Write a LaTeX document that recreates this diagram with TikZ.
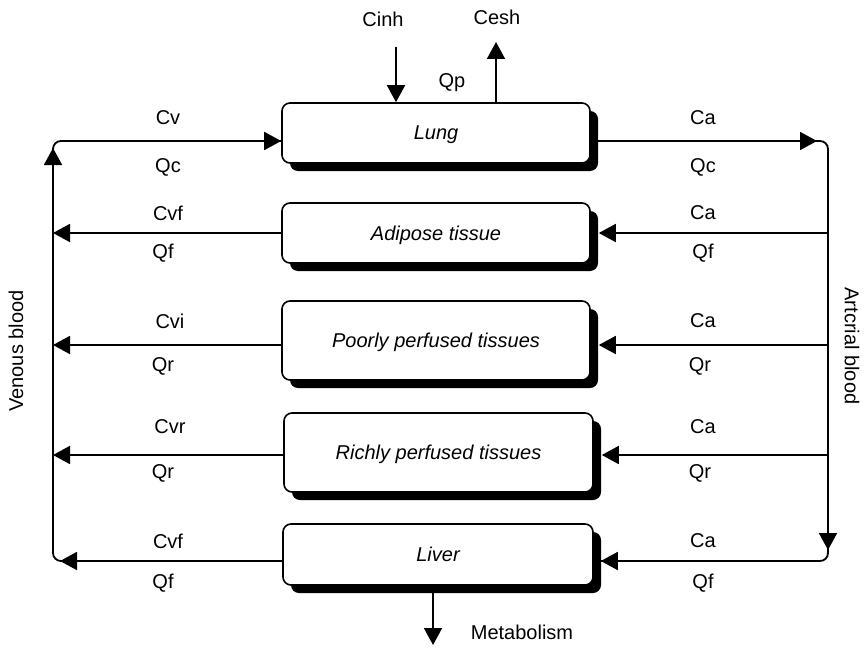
\documentclass[tikz,border=0pt]{standalone}
\usepackage{fontspec}
\setmainfont{Liberation Sans}
\usetikzlibrary{arrows.meta,shadows,calc}
\begin{document}
\begin{tikzpicture}[x=1pt,y=-1pt,
  every node/.style={font=\fontsize{20}{24}\selectfont, inner sep=0pt},
  organ/.style={draw, line width=1.6pt, rounded corners=8pt, fill=white,
    font=\fontsize{20}{24}\selectfont\itshape, text height=14pt, text depth=0pt,
    drop shadow={shadow xshift=8pt, shadow yshift=-8pt, opacity=1, fill=black}},
  flow/.style={line width=1.8pt},
  arr/.style={flow, -{Triangle[length=17pt,width=18pt]}}]
\useasboundingbox (0,0) rectangle (866,647);

% compartments
\node[organ, minimum width=308pt, minimum height=60pt] (lung)    at (436,133)   {Lung};
\node[organ, minimum width=308pt, minimum height=60pt] (adipose) at (436,233)   {Adipose tissue};
\node[organ, minimum width=308pt, minimum height=79pt] (poorly)  at (436,340.5) {Poorly perfused tissues};
\node[organ, minimum width=309pt, minimum height=79pt] (richly)  at (438.5,452.5) {Richly perfused tissues};
\node[organ, minimum width=310pt, minimum height=61pt] (liver)   at (438,554.5) {Liver};

% corners of the blood loops
\coordinate (vtop) at (53,141);
\coordinate (vbot) at (53,561);
\coordinate (atop) at (828,141);
\coordinate (abot) at (828,561);
% rows of the tissue flows
\coordinate (rowA) at (0,233);
\coordinate (rowP) at (0,345);
\coordinate (rowR) at (0,455);

% venous return loop
\draw[flow, rounded corners=8pt] (liver.west |- vbot) -- (vbot) -- (vtop) -- (lung.west |- vtop);
\draw[arr] (120,561) -- (60,561);
\draw[arr] (53,185) -- (53,148);
\draw[arr] (240,141) -- (lung.west |- vtop);

% arterial supply loop
\draw[flow, rounded corners=8pt] (lung.east |- atop) -- (atop) -- (abot) -- ($(liver.east |- abot)+(7,0)$);
\draw[arr] (760,141) -- (817,141);
\draw[arr] (828,500) -- (828,550);
\draw[arr] (660,561) -- ($(liver.east |- abot)+(7,0)$);

% tissue outflows to venous blood
\draw[arr] (adipose.west |- rowA) -- (vtop |- rowA);
\draw[arr] (poorly.west |- rowP) -- (vtop |- rowP);
\draw[arr] (richly.west |- rowR) -- (vtop |- rowR);

% arterial inflows to tissues
\draw[arr] (atop |- rowA) -- ($(adipose.east |- rowA)+(8,0)$);
\draw[arr] (atop |- rowP) -- ($(poorly.east |- rowP)+(8,0)$);
\draw[arr] (atop |- rowR) -- ($(richly.east |- rowR)+(8,0)$);

% inhalation / exhalation
\coordinate (inhtop) at (396,47);
\coordinate (eshtop) at (496,42);
\draw[arr] (inhtop) -- (lung.north -| inhtop);
\draw[arr] (lung.north -| eshtop) -- (eshtop);
\node (cinh) at (383,19) {Cinh};
\node (cesh) at (497,17) {Cesh};
\node (qp)   at (452,83) {Qp};

% metabolism
\coordinate (met) at (433,645);
\draw[arr] (liver.south -| met) -- (met);
\node (metab) at (522,632) {Metabolism};

% flow labels, venous side
\node (l1a) at (168,118) {Cv};  \node (l1b) at (168,167) {Qc};
\node (l2a) at (168,213) {Cvf}; \node (l2b) at (163,253) {Qf};
\node (l3a) at (170,321) {Cvi}; \node (l3b) at (163,366) {Qr};
\node (l4a) at (170,427) {Cvr}; \node (l4b) at (163,473) {Qr};
\node (l5a) at (168,541) {Cvf}; \node (l5b) at (163,583) {Qf};

% flow labels, arterial side
\node (r1a) at (703,118) {Ca}; \node (r1b) at (703,167) {Qc};
\node (r2a) at (703,213) {Ca}; \node (r2b) at (703,253) {Qf};
\node (r3a) at (703,321) {Ca}; \node (r3b) at (700,366) {Qr};
\node (r4a) at (703,427) {Ca}; \node (r4b) at (700,473) {Qr};
\node (r5a) at (703,541) {Ca}; \node (r5b) at (703,583) {Qf};

% loop names
\node[rotate=90]  (venous)   at (16,351)  {Venous blood};
\node[rotate=-90] (arterial) at (852,346) {Artcrial blood};
\end{tikzpicture}
\end{document}
